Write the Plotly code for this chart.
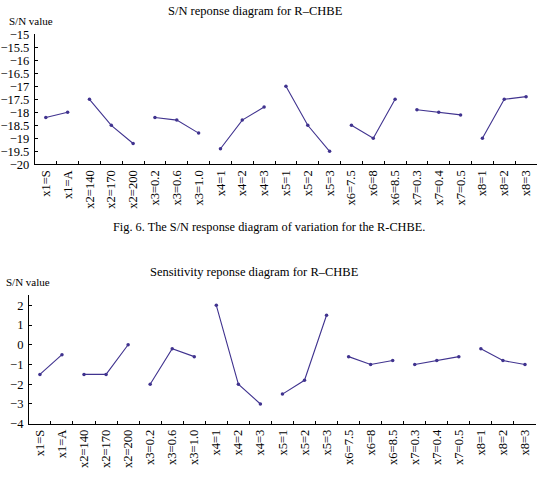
import plotly.graph_objects as go

labels = ["x1=S", "x1=A", "x2=140", "x2=170", "x2=200", "x3=0.2", "x3=0.6", "x3=1.0",
          "x4=1", "x4=2", "x4=3", "x5=1", "x5=2", "x5=3", "x6=7.5", "x6=8", "x6=8.5",
          "x7=0.3", "x7=0.4", "x7=0.5", "x8=1", "x8=2", "x8=3"]
sn_values = [-18.2, -18.0, -17.5, -18.5, -19.2, -18.2, -18.3, -18.8,
             -19.4, -18.3, -17.8, -17.0, -18.5, -19.5, -18.5, -19.0, -17.5,
             -17.9, -18.0, -18.1, -19.0, -17.5, -17.4]
sens_values = [-1.5, -0.5, -1.5, -1.5, 0.0, -2.0, -0.2, -0.6,
               2.0, -2.0, -3.0, -2.5, -1.8, 1.5, -0.6, -1.0, -0.8,
               -1.0, -0.8, -0.6, -0.2, -0.8, -1.0]

FONT = "Liberation Serif"
LINE = "#40338f"
W, H = 537, 488

groups = {}
for i, lab in enumerate(labels):
    groups.setdefault(lab.split("=")[0], []).append(i)

fig = go.Figure()
for vals, xa, ya in [(sn_values, "x", "y"), (sens_values, "x2", "y2")]:
    for g, idx in groups.items():
        fig.add_trace(go.Scatter(
            x=[labels[i] for i in idx], y=[vals[i] for i in idx],
            mode="lines+markers", xaxis=xa, yaxis=ya, showlegend=False,
            line=dict(color=LINE, width=1.1),
            marker=dict(color=LINE, size=3.5, symbol="circle")))

def px_dom_x(a, b):
    return [a / W, b / W]

def px_dom_y(top, bottom):
    return [1 - bottom / H, 1 - top / H]

xcommon = dict(type="category", categoryorder="array", categoryarray=labels,
               range=[-0.5, len(labels) - 0.5], tickson="boundaries",
               ticks="inside", ticklen=3, tickcolor="black", showline=True,
               linecolor="black", linewidth=1, showgrid=False, zeroline=False,
               tickangle=-90, tickfont=dict(family=FONT, size=12.5, color="black"))
ycommon = dict(ticks="inside", ticklen=3, tickcolor="black", showline=True,
               linecolor="black", linewidth=1, showgrid=False, zeroline=False,
               ticklabelstandoff=2,
               tickfont=dict(family=FONT, size=12.5, color="black"))

fig.update_layout(
    width=W, height=H, margin=dict(l=0, r=0, t=0, b=0),
    paper_bgcolor="white", plot_bgcolor="white",
    xaxis=dict(domain=px_dom_x(33, 537), anchor="y", **xcommon),
    yaxis=dict(domain=px_dom_y(28, 162), anchor="x", range=[-20, -15],
               tickvals=[-20 + 0.5 * k for k in range(11)],
               ticktext=[("%g" % (-20 + 0.5 * k)).replace("-", "\u2212") for k in range(11)],
               **ycommon),
    xaxis2=dict(domain=px_dom_x(27, 536), anchor="y2", **xcommon),
    yaxis2=dict(domain=px_dom_y(297, 429), anchor="x2", range=[-4, 2.5],
                tickvals=[-4, -3, -2, -1, 0, 1, 2],
                ticktext=["\u22124", "\u22123", "\u22122", "\u22121", "0", "1", "2"],
                **ycommon),
)

def note(text, x, y, size=11.5, xanchor="center"):
    fig.add_annotation(text=text, xref="paper", yref="paper", x=x / W, y=1 - y / H,
                       xanchor=xanchor, yanchor="middle", showarrow=False,
                       font=dict(family=FONT, size=size, color="black"))

note("S/N reponse diagram for R\u2013CHBE", 254, 4, 12.5)
note("S/N value", 5, 14, 11, "left")
note("Fig. 6. The S/N response diagram of variation for the R-CHBE.", 268, 226, 12.3)
note("Sensitivity reponse diagram for R\u2013CHBE", 253, 273, 12.5)
note("S/N value", 2, 283, 11, "left")

fig.write_html("out.html")
